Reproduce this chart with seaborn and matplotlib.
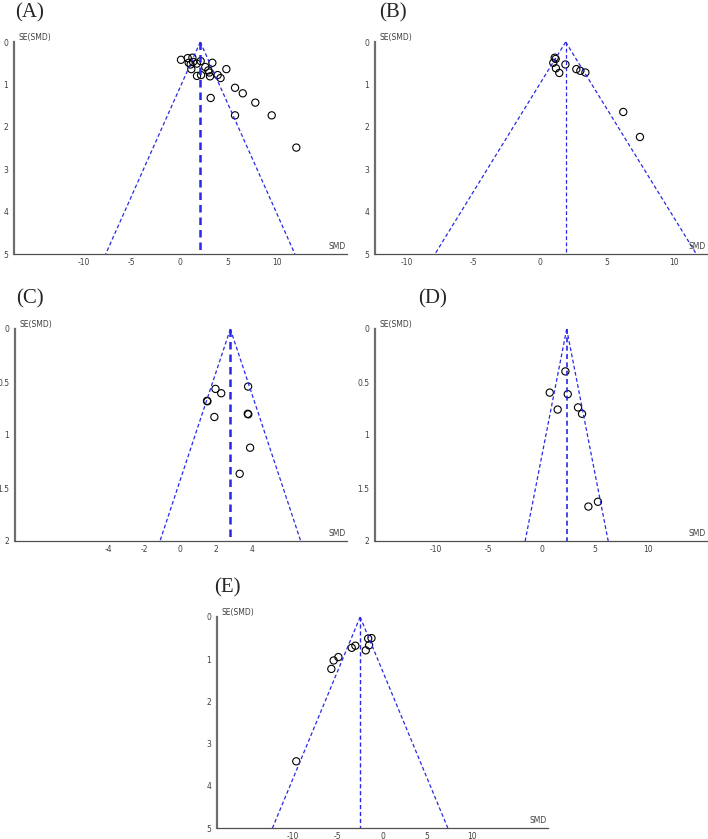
import matplotlib
matplotlib.use('Agg')
import matplotlib.pyplot as plt
import seaborn as sns
import pandas as pd

# (A)
a_smd = [0.10, 0.80, 1.28, 0.90, 1.10, 1.35, 1.74, 2.14, 3.35, 1.17, 2.62, 2.93, 3.04,
         4.80, 1.76, 2.18, 3.11, 3.90, 4.20, 5.70, 6.50, 3.18, 7.80, 5.70, 9.50, 12.05]
a_se = [0.42, 0.38, 0.37, 0.49, 0.53, 0.47, 0.51, 0.45, 0.49, 0.64, 0.59, 0.67, 0.72,
        0.64, 0.80, 0.78, 0.81, 0.78, 0.85, 1.08, 1.21, 1.32, 1.43, 1.73, 1.73, 2.49]
a_mean = 2.1

# (B)
b_smd = [1.08, 1.15, 0.97, 1.17, 1.42, 1.88, 2.70, 3.00, 3.38, 6.22, 7.47]
b_se = [0.37, 0.40, 0.49, 0.62, 0.73, 0.53, 0.64, 0.68, 0.72, 1.65, 2.24]
b_mean = 1.9

# (C)
c_smd = [1.97, 2.29, 1.50, 1.52, 1.91, 3.79, 3.77, 3.80, 3.90, 3.32]
c_se = [0.565, 0.606, 0.678, 0.682, 0.83, 0.543, 0.80, 0.805, 1.12, 1.366]
c_mean = 2.8

# (D)
d_smd = [2.23, 0.75, 2.45, 1.50, 3.42, 3.80, 5.30, 4.40]
d_se = [0.40, 0.60, 0.615, 0.76, 0.74, 0.80, 1.63, 1.675]
d_mean = 2.35

# (E)
e_smd = [-1.23, -1.60, -1.50, -1.87, -3.03, -3.44, -4.93, -5.46, -5.72, -9.64]
e_se = [0.50, 0.51, 0.67, 0.79, 0.68, 0.73, 0.95, 1.03, 1.23, 3.42]
e_mean = -2.5

W, H = 708, 839
sns.set_style('white')
fig = plt.figure(figsize=(W / 100, H / 100), dpi=100)

blue = '#2828e6'


def funnel(rect, label, label_xy, smd, se, mean, ymax, xlim, xticks, yticks, vlw):
    ax = fig.add_axes(rect)
    df = pd.DataFrame({'SMD': smd, 'SE': se})
    lo = mean - 1.96 * ymax
    hi = mean + 1.96 * ymax
    ax.plot([mean, lo], [0, ymax], color=blue, lw=0.9, ls=(0, (3, 2)), clip_on=False)
    ax.plot([mean, hi], [0, ymax], color=blue, lw=0.9, ls=(0, (3, 2)), clip_on=False)
    ax.plot([mean, mean], [0, ymax], color=blue, lw=vlw, ls=(0, (3, 2)), clip_on=False)
    sns.scatterplot(data=df, x='SMD', y='SE', ax=ax, marker='o', s=27,
                    facecolor='none', edgecolor='black', linewidth=0.8, clip_on=False)
    ax.set_xlim(*xlim)
    ax.set_ylim(ymax, 0)
    ax.set_xticks(xticks)
    ax.set_xticklabels([str(t) for t in xticks])
    ax.set_yticks(yticks)
    ax.set_yticklabels([('%g' % t) for t in yticks])
    ax.set_xlabel('')
    ax.set_ylabel('')
    for s in ['top', 'right']:
        ax.spines[s].set_visible(False)
    ax.spines['left'].set_color('#6e6e6e')
    ax.spines['left'].set_linewidth(1.6)
    ax.spines['bottom'].set_color('#505050')
    ax.spines['bottom'].set_linewidth(0.9)
    ax.tick_params(axis='x', direction='inout', length=5, width=0.8, colors='#404040',
                   labelsize=5.5, pad=0.5)
    ax.tick_params(axis='y', direction='out', length=3, width=0.8, colors='#404040',
                   labelsize=5.5, pad=1)
    ax.annotate('SE(SMD)', xy=(0, 1), xycoords='axes fraction', xytext=(3, 0),
                textcoords='offset points', ha='left', va='bottom', fontsize=5.5,
                color='#404040')
    ax.annotate('SMD', xy=(1, 0), xycoords='axes fraction', xytext=(-1, 2),
                textcoords='offset points', ha='right', va='bottom', fontsize=5.5,
                color='#404040')
    fig.text(label_xy[0] / W, 1 - label_xy[1] / H, label, fontsize=15,
             family='Liberation Serif', ha='left', va='top')
    return ax


funnel([14 / W, 1 - 254 / H, 333 / W, 212 / H], '(A)', (15, 3),
       a_smd, a_se, a_mean, 5, (-17.2, 17.3), [-10, -5, 0, 5, 10], [0, 1, 2, 3, 4, 5], 1.8)
funnel([375 / W, 1 - 254 / H, 332 / W, 212 / H], '(B)', (379, 3),
       b_smd, b_se, b_mean, 5, (-12.4, 12.5), [-10, -5, 0, 5, 10], [0, 1, 2, 3, 4, 5], 0.9)
funnel([15 / W, 1 - 541 / H, 332 / W, 212 / H], '(C)', (16, 289),
       c_smd, c_se, c_mean, 2, (-9.2, 9.3), [-4, -2, 0, 2, 4], [0, 0.5, 1, 1.5, 2], 1.8)
funnel([375 / W, 1 - 541 / H, 332 / W, 212 / H], '(D)', (418, 289),
       d_smd, d_se, d_mean, 2, (-15.75, 15.6), [-10, -5, 0, 5, 10], [0, 0.5, 1, 1.5, 2], 1.2)
funnel([217 / W, 1 - 828 / H, 331 / W, 211 / H], '(E)', (214, 578),
       e_smd, e_se, e_mean, 5, (-18.5, 18.5), [-10, -5, 0, 5, 10], [0, 1, 2, 3, 4, 5], 1.0)

fig.savefig('out.png', dpi=100)
